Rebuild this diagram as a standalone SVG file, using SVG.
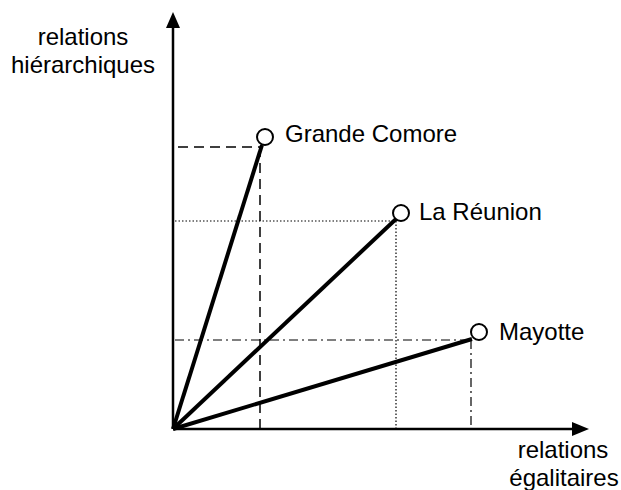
<svg xmlns="http://www.w3.org/2000/svg" width="621" height="490" viewBox="0 0 621 490">
<style>
text{font-family:"Liberation Sans",Arial,sans-serif;font-size:24px;fill:#000}
.ax{stroke:#000;stroke-width:2.5;fill:none}
.ln{stroke:#000;stroke-width:4;fill:none}
.dash{stroke:#000;stroke-width:1.5;stroke-dasharray:10,6;fill:none}
.dot{stroke:#000;stroke-width:1.2;stroke-dasharray:1.5,2;fill:none}
.dd{stroke:#000;stroke-width:1.2;stroke-dasharray:9,4,2,4;fill:none}
.pt{fill:#fff;stroke:#000;stroke-width:2}
</style>
<g id="axes">
<line class="ax" x1="173" y1="429" x2="173" y2="26"/>
<polygon points="173,12 166,28 180,28"/>
<line class="ax" x1="173" y1="429" x2="574" y2="429"/>
<polygon points="589,429 572,422 572,436"/>
<text x="83" y="45" text-anchor="middle">relations</text>
<text x="83" y="73" text-anchor="middle">hiérarchiques</text>
<text x="563" y="458" text-anchor="middle">relations</text>
<text x="564" y="486" text-anchor="middle">égalitaires</text>
</g>
<g id="connectors">
<path class="dash" d="M178,147 H262 M260,147 V429"/>
<path class="dot" d="M175,221 H395 M396,221 V429"/>
<path class="dd" d="M175,340 H470 M471,340 V429"/>
<line class="ln" x1="173" y1="429" x2="262" y2="145"/>
<line class="ln" x1="173" y1="429" x2="396" y2="219"/>
<line class="ln" x1="173" y1="429" x2="472" y2="339"/>
</g>
<g id="grande-comore">
<circle class="pt" cx="265" cy="137" r="8"/>
<text x="285" y="142">Grande Comore</text>
</g>
<g id="la-reunion">
<circle class="pt" cx="401" cy="213" r="8"/>
<text x="419" y="220">La Réunion</text>
</g>
<g id="mayotte">
<circle class="pt" cx="479" cy="332" r="8"/>
<text x="499" y="340">Mayotte</text>
</g>
</svg>
